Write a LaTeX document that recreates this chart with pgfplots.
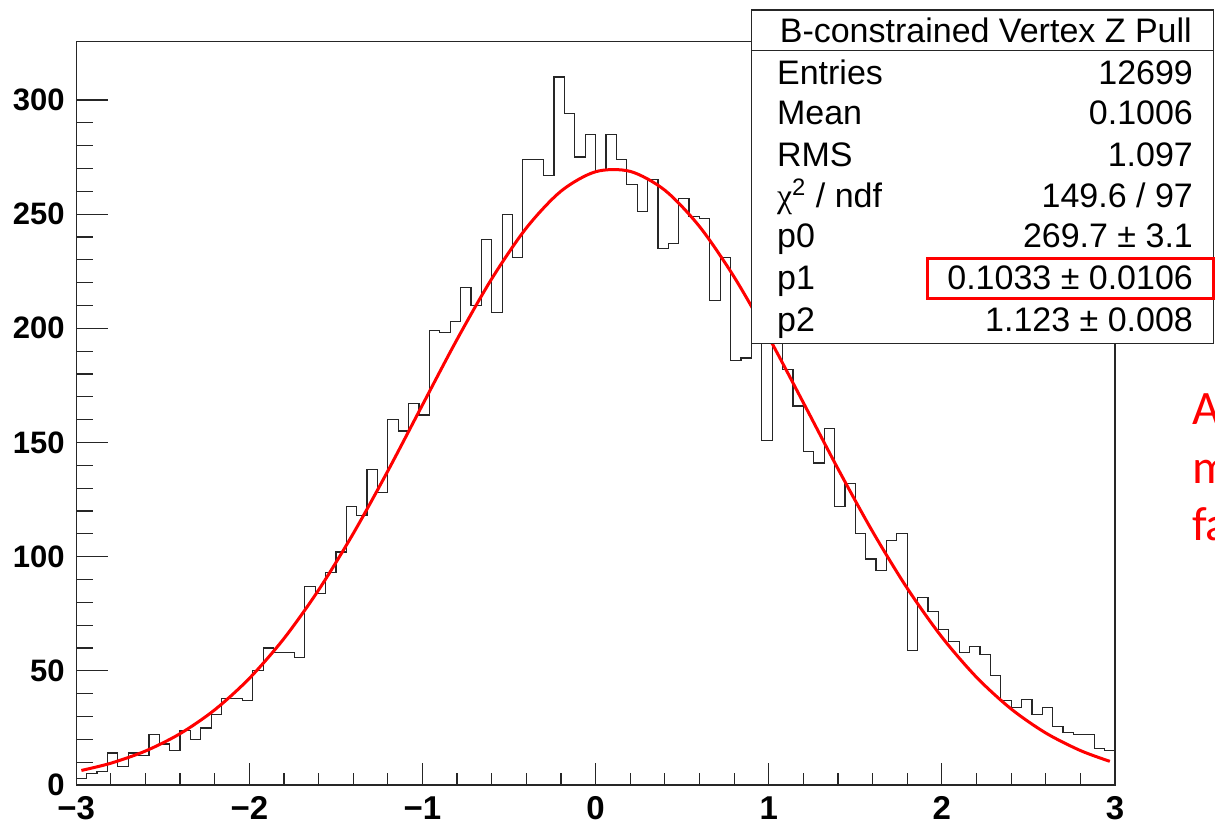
\documentclass[border=0pt]{standalone}
\usepackage{pgfplots}
\pgfplotsset{compat=1.18}
\usepackage{fontspec}
\setmainfont{Liberation Sans}
\newfontfamily\serifgreek{Liberation Serif}
\newfontfamily\calib{Carlito}
\pgfplotstableread{
x y
-3.00 3
-2.94 5
-2.88 6
-2.82 14
-2.76 8
-2.70 14
-2.64 13
-2.58 22
-2.52 18
-2.46 15
-2.40 24
-2.34 20
-2.28 25
-2.22 31
-2.16 38
-2.10 38
-2.04 37
-1.98 50
-1.92 60
-1.86 58
-1.80 58
-1.74 56
-1.68 87
-1.62 84
-1.56 93
-1.50 102
-1.44 122
-1.38 118
-1.32 138
-1.26 128
-1.20 160
-1.14 155
-1.08 167
-1.02 162
-0.96 199
-0.90 198
-0.84 203
-0.78 218
-0.72 210
-0.66 239
-0.60 207
-0.54 250
-0.48 231
-0.42 274
-0.36 274
-0.30 267
-0.24 310
-0.18 294
-0.12 275
-0.06 285
0.00 269
0.06 285
0.12 274
0.18 263
0.24 251
0.30 265
0.36 235
0.42 237
0.48 257
0.54 249
0.60 248
0.66 212
0.72 231
0.78 186
0.84 187
0.90 205
0.96 151
1.02 198
1.08 182
1.14 166
1.20 146
1.26 141
1.32 156
1.38 122
1.44 132
1.50 110
1.56 99
1.62 94
1.68 107
1.74 110
1.80 59
1.86 82
1.92 76
1.98 68
2.04 63
2.10 58
2.16 60.5
2.22 57
2.28 48
2.34 37
2.40 34
2.46 37.5
2.52 31
2.58 34
2.64 25.5
2.70 23
2.76 22
2.82 22
2.88 16
2.94 15
3.00 15
}\histdata
\pgfplotstableread{
x y
-2.97 6.38
-2.80 9.54
-2.60 14.88
-2.40 22.48
-2.20 32.91
-2.00 46.69
-1.80 64.14
-1.60 85.38
-1.40 110.09
-1.20 137.53
-1.00 166.45
-0.80 195.16
-0.60 221.67
-0.40 243.93
-0.20 260.04
0.00 268.56
0.20 268.70
0.40 260.45
0.60 244.57
0.80 222.49
1.00 196.08
1.20 167.41
1.40 138.47
1.60 110.96
1.80 86.14
2.00 64.78
2.20 47.20
2.40 33.31
2.60 22.78
2.80 15.09
2.97 10.37
}\fitdata
\begin{document}
\begin{tikzpicture}
\pgfplotsset{
  common/.style={
    at={(0,0)}, anchor=south west,
    scale only axis, width=519.4pt, height=371.65pt,
    xmin=-3, xmax=3, ymin=0, ymax=325.5,
    tick align=inside,
    xtick pos=bottom, ytick pos=left,
    tick style={line width=0.6pt, black!85},
    /pgf/number format/assume math mode=true,
  }
}
\begin{axis}[
  common,
  axis line style={line width=0.6pt, black!85},
  xtick=\empty,
  ytick={0,50,...,300},
  minor y tick num=4,
  major tick length=16pt, minor tick length=8.3pt,
  yticklabel style={font=\bfseries\fontsize{15.5}{16}\selectfont, anchor=east, inner sep=0pt, xshift=-5.6pt},
]
\addplot[const plot mark left, black!85, line width=0.6pt] table[x=x,y=y] {\histdata};
\addplot[red, line width=1.5pt, smooth] table[x=x,y=y] {\fitdata};
\end{axis}
\begin{axis}[
  common,
  axis line style={draw=none},
  ytick=\empty,
  xtick={-3,-2,-1,0,1,2,3},
  xticklabels={−3,−2,−1,0,1,2,3},
  minor x tick num=4,
  major tick length=11pt, minor tick length=5.85pt,
  xticklabel style={font=\bfseries\fontsize{16.5}{17}\selectfont, anchor=base, inner sep=0pt, yshift=-17.2pt},
]
\addplot[draw=none] coordinates {(0,0)};
\end{axis}
% statistics box
\draw[draw=black!85, fill=white, line width=0.6pt] (337.75pt,220.85pt) rectangle (568.6pt,387.5pt);
\draw[draw=black!85, line width=0.6pt] (337.75pt,367.15pt) -- (568.6pt,367.15pt);
\begin{scope}[every node/.style={inner sep=0pt, font=\fontsize{17}{20}\selectfont}]
\node[anchor=base] at (454.8pt,371.15pt) {B-constrained Vertex Z Pull};
\node[anchor=base west] at (350.25pt,350pt) {Entries};
\node[anchor=base east] at (558.55pt,350pt) {12699};
\node[anchor=base west] at (350.25pt,330pt) {Mean};
\node[anchor=base east] at (558.55pt,330pt) {0.1006};
\node[anchor=base west] at (350.25pt,309.15pt) {RMS};
\node[anchor=base east] at (558.55pt,309.15pt) {1.097};
\node[anchor=base west] at (350.25pt,288.5pt) {{\serifgreek χ}\textsuperscript{2} / ndf};
\node[anchor=base east] at (558.55pt,288.5pt) {149.6 / 97};
\node[anchor=base west] at (350.25pt,268.5pt) {p0};
\node[anchor=base east] at (558.55pt,268.5pt) {269.7 ± 3.1};
\node[anchor=base west] at (350.25pt,247.5pt) {p1};
\node[anchor=base east] at (558.55pt,247.5pt) {0.1033 ± 0.0106};
\node[anchor=base west] at (350.25pt,226.65pt) {p2};
\node[anchor=base east] at (558.55pt,226.65pt) {1.123 ± 0.008};
\end{scope}
\draw[red, line width=1.65pt] (425.75pt,243.35pt) rectangle (568.5pt,263.35pt);
% cut-off annotation text
\begin{scope}[every node/.style={inner sep=0pt, anchor=base west, text=red, font=\calib\fontsize{24}{29}\selectfont}]
\node at (557.75pt,180.5pt) {A};
\node at (557.75pt,150.85pt) {m};
\node at (557.75pt,122.5pt) {fa};
\end{scope}
\pgfresetboundingbox
\useasboundingbox (-38.1pt,-17.5pt) rectangle (569.4pt,392.5pt);
\end{tikzpicture}
\end{document}
